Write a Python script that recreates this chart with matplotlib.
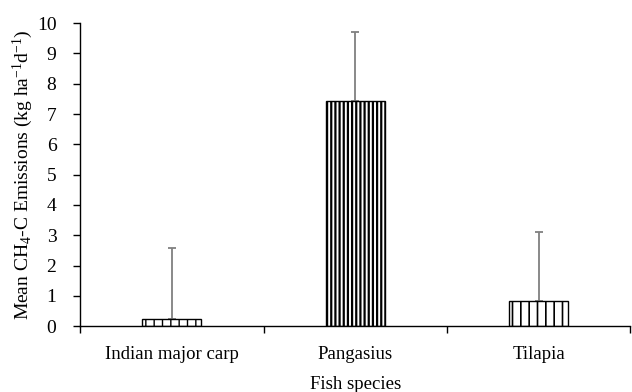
import numpy as np
import matplotlib
matplotlib.use("Agg")
import matplotlib.pyplot as plt

plt.rcParams['font.family'] = ['Liberation Serif', 'DejaVu Serif']
plt.rcParams['mathtext.fontset'] = 'custom'
plt.rcParams['mathtext.rm'] = 'Liberation Serif'
plt.rcParams['mathtext.it'] = 'Liberation Serif'

# data
species = ["Indian major carp", "Pangasius", "Tilapia"]
mean_ch4 = [0.25, 7.42, 0.82]
err_up = [2.32, 2.30, 2.30]
hatches = ["||", "||||", "||"]
hatch_lw = [1.0, 1.6, 1.2]

fig = plt.figure(figsize=(6.32, 3.92), dpi=100)
ax = fig.add_axes([0.1266, 0.168, 0.871, 0.773])

x = np.arange(len(species))
for i in range(len(species)):
    with plt.rc_context({'hatch.linewidth': hatch_lw[i]}):
        bars = ax.bar(x[i], mean_ch4[i], width=0.32, color='white', edgecolor='black',
                      linewidth=1.0, hatch=hatches[i], zorder=2)
    for b in bars:
        if hasattr(b, 'set_hatch_linewidth'):
            b.set_hatch_linewidth(hatch_lw[i])
ax.errorbar(x, mean_ch4, yerr=[np.zeros(len(x)), err_up], fmt='none',
            ecolor='#808080', elinewidth=1.3, capsize=3, capthick=1.3, zorder=1)

ax.set_xlim(-0.5, len(species) - 0.5)
ax.set_ylim(0, 10)
ax.set_yticks(range(0, 11))
ax.set_xticks(x)
ax.set_xticklabels(species, fontsize=13.5)
# category boundary ticks
ax.set_xticks(np.arange(-0.5, len(species)), minor=True)
ax.tick_params(axis='x', which='major', length=0, pad=14)
ax.tick_params(axis='x', which='minor', length=5, width=1, direction='out')
ax.tick_params(axis='y', length=5, width=1, direction='out', labelsize=14, pad=12)

for s in ['top', 'right']:
    ax.spines[s].set_visible(False)
ax.spines['left'].set_linewidth(1)
ax.spines['bottom'].set_linewidth(1)

ax.set_ylabel('Mean CH$_4$-C Emissions (kg ha$^{-1}$d$^{-1}$)', fontsize=14, labelpad=1)
ax.set_xlabel('Fish species', fontsize=13.5, labelpad=10)

fig.savefig('out.png', dpi=100)
